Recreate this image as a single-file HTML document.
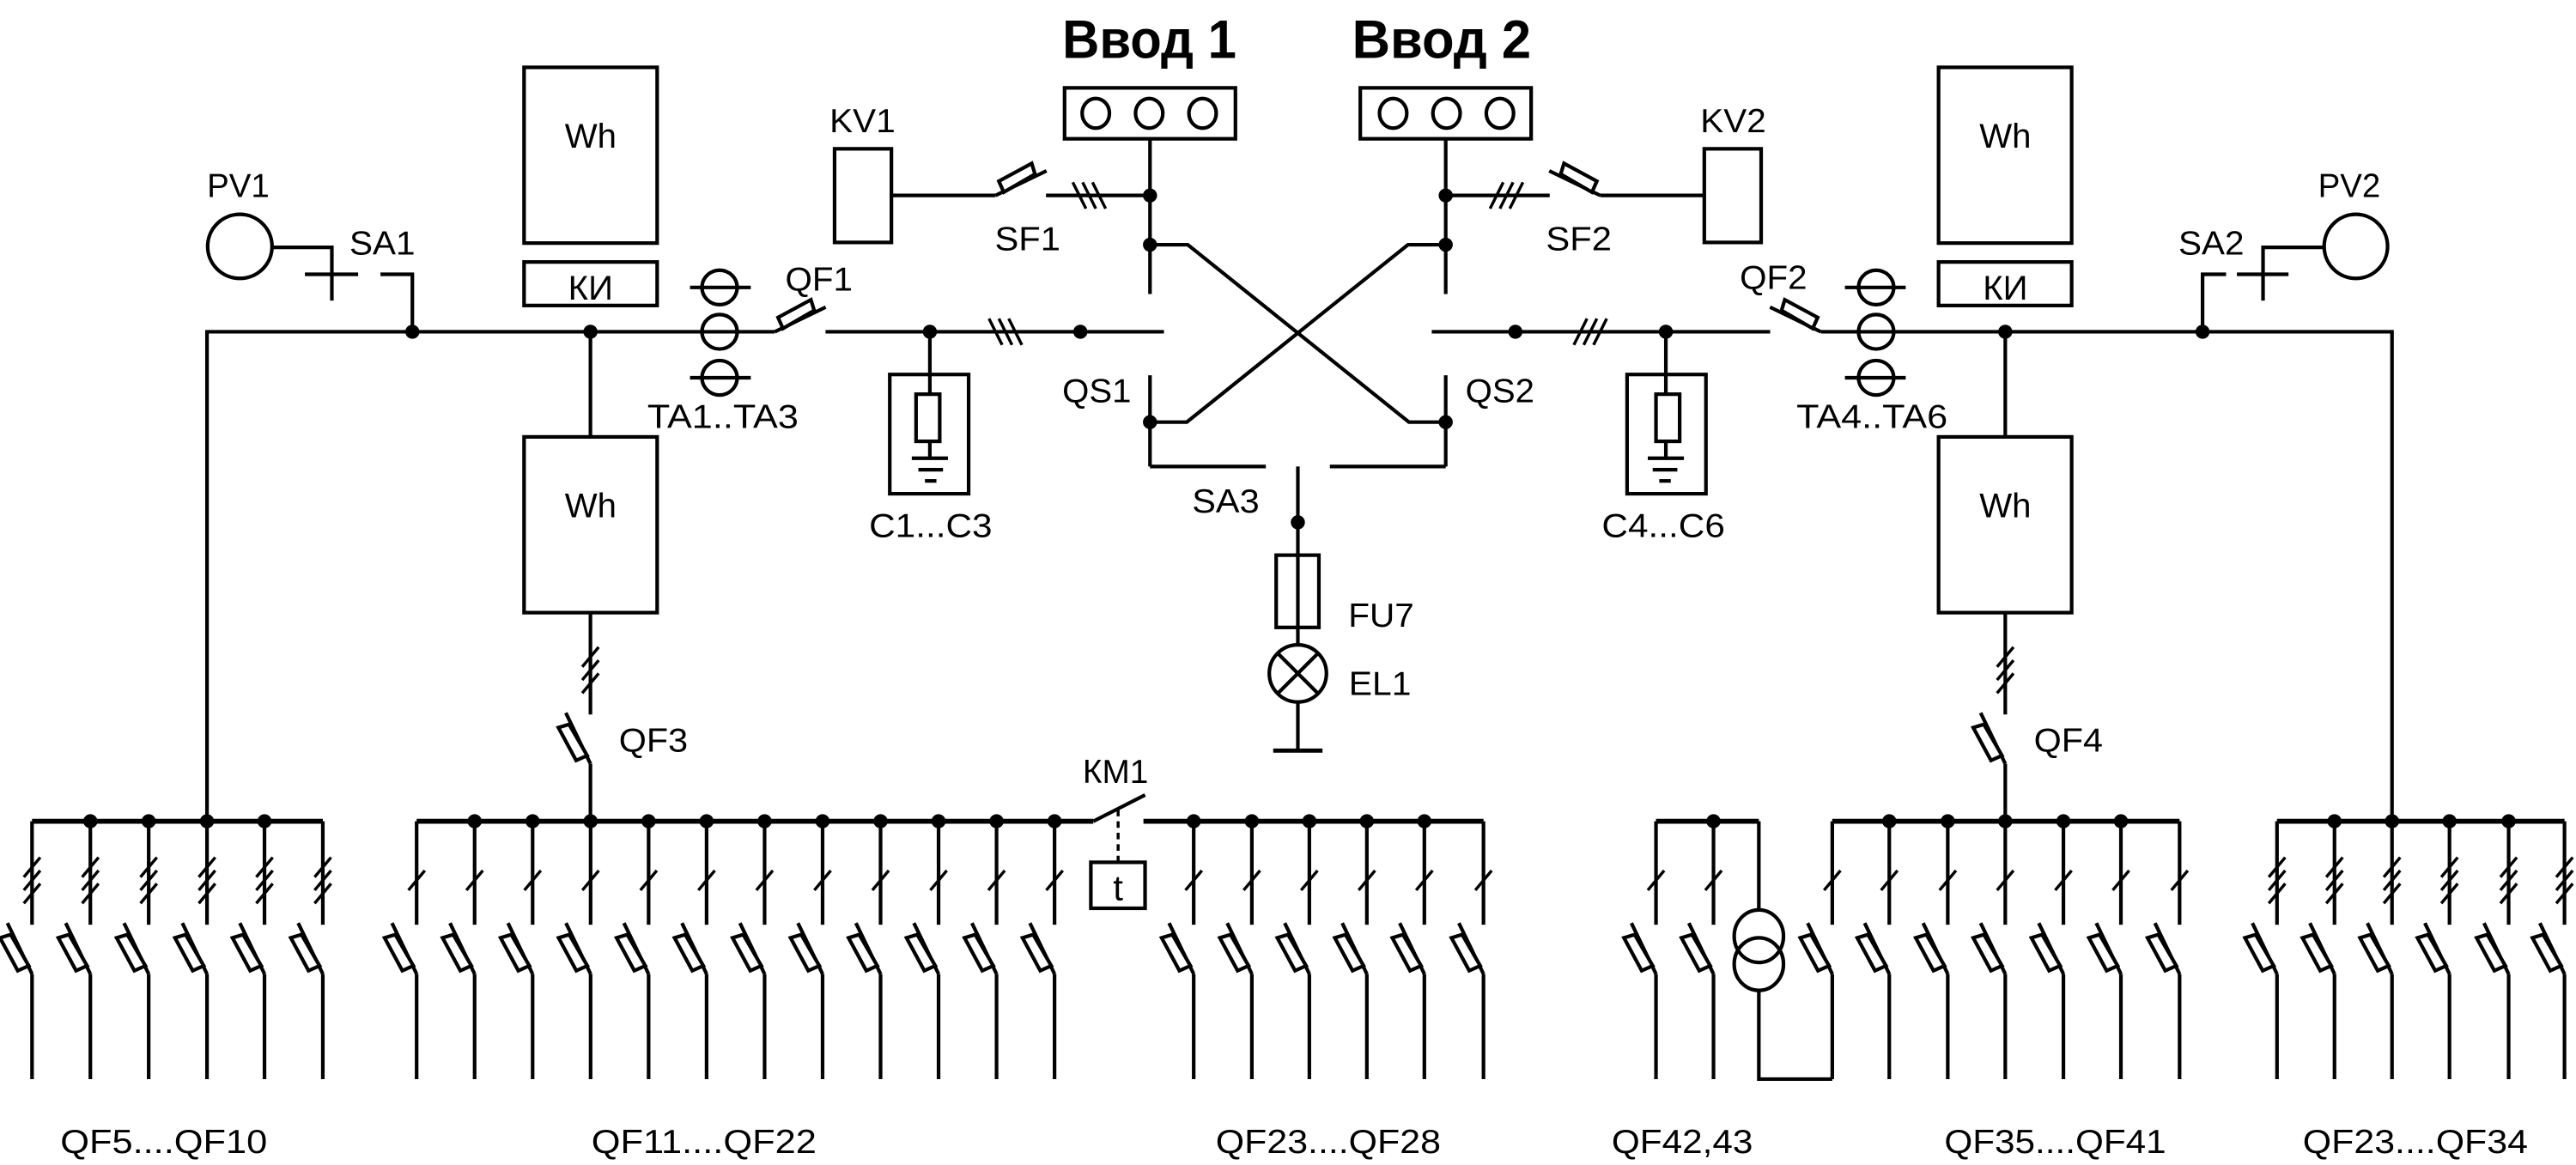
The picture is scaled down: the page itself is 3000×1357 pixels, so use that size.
<!DOCTYPE html>
<html><head><meta charset="utf-8"><style>
html,body{margin:0;padding:0;background:#fff}
svg{display:block}
text{font-family:"Liberation Sans",Arial,sans-serif;fill:#000}
</style></head><body>
<svg xmlns="http://www.w3.org/2000/svg" xmlns:xlink="http://www.w3.org/1999/xlink" width="3000" height="1357" viewBox="0 0 1568 709.3" preserveAspectRatio="none">
<rect width="1568" height="709.3" fill="#fff"/>
<defs>
<g id="bt"><line x1="-15" y1="-31" x2="0" y2="0"/><polygon points="-19.5,-22 -13,-24 -2,-5 -8.7,-2" fill="#fff"/></g>
<circle id="d" r="4.3" fill="#000" stroke="none"/>
<g id="brT"><line x1="0" y1="500" x2="0" y2="563"/><line x1="-5" y1="534" x2="5" y2="522" stroke-width="1.8"/><line x1="-5" y1="542" x2="5" y2="530" stroke-width="1.8"/><line x1="-5" y1="550" x2="5" y2="538" stroke-width="1.8"/><use href="#bt" xlink:href="#bt" transform="translate(0,593)"/><line x1="0" y1="593" x2="0" y2="657"/></g>
<g id="brS"><line x1="0" y1="500" x2="0" y2="563"/><line x1="-5" y1="542" x2="5" y2="530" stroke-width="1.8"/><use href="#bt" xlink:href="#bt" transform="translate(0,593)"/><line x1="0" y1="593" x2="0" y2="657"/></g>
<g id="feed">
<line x1="0" y1="202" x2="0" y2="266"/>
<line x1="0" y1="373" x2="0" y2="435"/>
<line x1="-5" y1="406" x2="5" y2="394" stroke-width="1.8"/>
<line x1="-5" y1="414" x2="5" y2="402" stroke-width="1.8"/>
<line x1="-5" y1="422" x2="5" y2="410" stroke-width="1.8"/>
<use href="#bt" xlink:href="#bt" transform="translate(0,465)"/>
<line x1="0" y1="465" x2="0" y2="500"/>
<use href="#d" xlink:href="#d" x="0" y="202"/>
</g>
</defs>

<g fill="none" stroke="#000" stroke-width="2.2">
<g id="L">
<rect x="319" y="41" width="81" height="107"/>
<rect x="319" y="159.5" width="81" height="26.5"/>
<rect x="319" y="266" width="81" height="107"/>
<ellipse cx="438" cy="175" rx="10.7" ry="10.5"/>
<ellipse cx="438" cy="202" rx="10.7" ry="10.5"/>
<ellipse cx="438" cy="230" rx="10.7" ry="10.5"/>
<line x1="420" y1="175" x2="457" y2="175"/>
<line x1="420" y1="230" x2="457" y2="230"/>
<use href="#bt" xlink:href="#bt" transform="translate(471.6,202) rotate(90)"/>
<line x1="502.5" y1="202" x2="708.5" y2="202"/>
<use href="#d" xlink:href="#d" x="566" y="202"/>
<use href="#d" xlink:href="#d" x="657.6" y="202"/>
<line x1="602" y1="194" x2="610" y2="210" stroke-width="1.8"/>
<line x1="608" y1="194" x2="616" y2="210" stroke-width="1.8"/>
<line x1="614" y1="194" x2="622" y2="210" stroke-width="1.8"/>
<rect x="541.6" y="228" width="48" height="72.6"/>
<line x1="566" y1="202" x2="566" y2="240"/>
<rect x="557.6" y="240" width="14.4" height="28.7"/>
<line x1="566" y1="268.7" x2="566" y2="278.6"/>
<line x1="555" y1="279" x2="577" y2="279"/>
<line x1="559" y1="286" x2="574" y2="286"/>
<line x1="563" y1="292.8" x2="570" y2="292.8"/>
<rect x="508" y="90.6" width="34.6" height="57"/>
<line x1="542.6" y1="119" x2="606" y2="119"/>
<use href="#bt" xlink:href="#bt" transform="translate(606,119) rotate(90)"/>
<line x1="636.7" y1="119" x2="700" y2="119"/>
<line x1="653" y1="111" x2="661" y2="127" stroke-width="1.8"/>
<line x1="659" y1="111" x2="667" y2="127" stroke-width="1.8"/>
<line x1="665" y1="111" x2="673" y2="127" stroke-width="1.8"/>
<rect x="648" y="53.5" width="104" height="31"/>
<ellipse cx="667" cy="69" rx="8.3" ry="9"/>
<ellipse cx="699.5" cy="69" rx="8.3" ry="9"/>
<ellipse cx="732" cy="69" rx="8.3" ry="9"/>
<line x1="700" y1="84.5" x2="700" y2="179"/>
<use href="#d" xlink:href="#d" x="700" y="119"/>
<use href="#d" xlink:href="#d" x="700" y="149"/>
<path d="M700 149 H723 L857.6 257 H880"/>
<line x1="700" y1="228.5" x2="700" y2="284"/>
<use href="#d" xlink:href="#d" x="700" y="257"/>
<path d="M700 284 H770.5"/>
</g>
<use href="#L" xlink:href="#L" transform="translate(1580,0) scale(-1,1)"/>
<use href="#feed" xlink:href="#feed" x="359.4"/>
<use href="#feed" xlink:href="#feed" x="1220.6"/>

<!-- left/right specific top -->
<path d="M126 500 V202 H471.6"/>
<use href="#d" xlink:href="#d" x="251" y="202"/>
<ellipse cx="146" cy="150" rx="19.6" ry="19.5"/>
<path d="M165.6 150.6 H202 V183"/>
<line x1="185.6" y1="167" x2="218" y2="167"/>
<path d="M231.6 167 H251 V202"/>
<path d="M1108.4 202 H1456 V500"/>
<use href="#d" xlink:href="#d" x="1340.7" y="202"/>
<ellipse cx="1434" cy="150" rx="19.3" ry="19.5"/>
<path d="M1414.7 150.6 H1377.5 V183"/>
<line x1="1361.6" y1="167" x2="1393" y2="167"/>
<path d="M1355 167 H1340.7 V202"/>

<!-- middle -->
<line x1="790" y1="284" x2="790" y2="392.6"/>
<use href="#d" xlink:href="#d" x="790" y="318"/>
<rect x="776.8" y="338" width="26" height="44"/>
<circle cx="790" cy="410" r="17.4"/>
<line x1="777.7" y1="397.7" x2="802.3" y2="422.3"/>
<line x1="802.3" y1="397.7" x2="777.7" y2="422.3"/>
<line x1="790" y1="427.4" x2="790" y2="457"/>
<line x1="775" y1="457" x2="805" y2="457" stroke-width="2.6"/>

<!-- bottom group 1 -->
<line x1="19.5" y1="500" x2="196.5" y2="500" stroke-width="3"/>
<use href="#brT" xlink:href="#brT" x="19.5"/>
<use href="#brT" xlink:href="#brT" x="55"/>
<use href="#brT" xlink:href="#brT" x="90.5"/>
<use href="#brT" xlink:href="#brT" x="126"/>
<use href="#brT" xlink:href="#brT" x="161"/>
<use href="#brT" xlink:href="#brT" x="196.5"/>
<use href="#d" xlink:href="#d" x="55" y="500"/>
<use href="#d" xlink:href="#d" x="90.5" y="500"/>
<use href="#d" xlink:href="#d" x="126" y="500"/>
<use href="#d" xlink:href="#d" x="161" y="500"/>

<!-- group 2 -->
<line x1="253.6" y1="500" x2="665.5" y2="500" stroke-width="3"/>
<use href="#brS" xlink:href="#brS" x="253.6"/>
<use href="#brS" xlink:href="#brS" x="288.9"/>
<use href="#brS" xlink:href="#brS" x="324.2"/>
<use href="#brS" xlink:href="#brS" x="359.5"/>
<use href="#brS" xlink:href="#brS" x="394.8"/>
<use href="#brS" xlink:href="#brS" x="430.1"/>
<use href="#brS" xlink:href="#brS" x="465.4"/>
<use href="#brS" xlink:href="#brS" x="500.7"/>
<use href="#brS" xlink:href="#brS" x="536"/>
<use href="#brS" xlink:href="#brS" x="571.3"/>
<use href="#brS" xlink:href="#brS" x="606.6"/>
<use href="#brS" xlink:href="#brS" x="641.9"/>
<use href="#d" xlink:href="#d" x="288.9" y="500"/>
<use href="#d" xlink:href="#d" x="324.2" y="500"/>
<use href="#d" xlink:href="#d" x="359.5" y="500"/>
<use href="#d" xlink:href="#d" x="394.8" y="500"/>
<use href="#d" xlink:href="#d" x="430.1" y="500"/>
<use href="#d" xlink:href="#d" x="465.4" y="500"/>
<use href="#d" xlink:href="#d" x="500.7" y="500"/>
<use href="#d" xlink:href="#d" x="536" y="500"/>
<use href="#d" xlink:href="#d" x="571.3" y="500"/>
<use href="#d" xlink:href="#d" x="606.6" y="500"/>
<use href="#d" xlink:href="#d" x="641.9" y="500"/>
<line x1="665.5" y1="500" x2="697" y2="484"/>
<line x1="680.6" y1="493" x2="680.6" y2="525" stroke-dasharray="4,3" stroke-width="1.8"/>
<rect x="664" y="525" width="33" height="28"/>

<!-- group 3 -->
<line x1="696" y1="500" x2="903" y2="500" stroke-width="3"/>
<use href="#brS" xlink:href="#brS" x="726.6"/>
<use href="#brS" xlink:href="#brS" x="762"/>
<use href="#brS" xlink:href="#brS" x="797"/>
<use href="#brS" xlink:href="#brS" x="832"/>
<use href="#brS" xlink:href="#brS" x="867"/>
<use href="#brS" xlink:href="#brS" x="903"/>
<use href="#d" xlink:href="#d" x="726.6" y="500"/>
<use href="#d" xlink:href="#d" x="762" y="500"/>
<use href="#d" xlink:href="#d" x="797" y="500"/>
<use href="#d" xlink:href="#d" x="832" y="500"/>
<use href="#d" xlink:href="#d" x="867" y="500"/>

<!-- group 4 -->
<line x1="1008" y1="500" x2="1070.6" y2="500" stroke-width="3"/>
<use href="#brS" xlink:href="#brS" x="1008"/>
<use href="#brS" xlink:href="#brS" x="1043"/>
<use href="#d" xlink:href="#d" x="1043" y="500"/>
<line x1="1070.6" y1="500" x2="1070.6" y2="554"/>
<ellipse cx="1070.6" cy="570" rx="15" ry="16"/>
<ellipse cx="1070.6" cy="587" rx="15" ry="16"/>
<path d="M1070.6 603 V657 H1115.3"/>

<!-- group 5 -->
<line x1="1115.3" y1="500" x2="1326.7" y2="500" stroke-width="3"/>
<use href="#brS" xlink:href="#brS" x="1115.3"/>
<use href="#brS" xlink:href="#brS" x="1150"/>
<use href="#brS" xlink:href="#brS" x="1185.6"/>
<use href="#brS" xlink:href="#brS" x="1220.6"/>
<use href="#brS" xlink:href="#brS" x="1256"/>
<use href="#brS" xlink:href="#brS" x="1291"/>
<use href="#brS" xlink:href="#brS" x="1326.7"/>
<use href="#d" xlink:href="#d" x="1150" y="500"/>
<use href="#d" xlink:href="#d" x="1185.6" y="500"/>
<use href="#d" xlink:href="#d" x="1220.6" y="500"/>
<use href="#d" xlink:href="#d" x="1256" y="500"/>
<use href="#d" xlink:href="#d" x="1291" y="500"/>

<!-- group 6 -->
<line x1="1386" y1="500" x2="1561" y2="500" stroke-width="3"/>
<use href="#brT" xlink:href="#brT" x="1386"/>
<use href="#brT" xlink:href="#brT" x="1421"/>
<use href="#brT" xlink:href="#brT" x="1456"/>
<use href="#brT" xlink:href="#brT" x="1491"/>
<use href="#brT" xlink:href="#brT" x="1527"/>
<use href="#brT" xlink:href="#brT" x="1561"/>
<use href="#d" xlink:href="#d" x="1421" y="500"/>
<use href="#d" xlink:href="#d" x="1456" y="500"/>
<use href="#d" xlink:href="#d" x="1491" y="500"/>
<use href="#d" xlink:href="#d" x="1527" y="500"/>
</g>

<g font-size="20.5">
<text x="646.6" y="35.4" font-size="33" font-weight="bold" textLength="106" lengthAdjust="spacingAndGlyphs">Ввод 1</text>
<text x="823" y="35.4" font-size="33" font-weight="bold" textLength="109" lengthAdjust="spacingAndGlyphs">Ввод 2</text>
<text x="126" y="120" textLength="38" lengthAdjust="spacingAndGlyphs">PV1</text>
<text x="212.7" y="155" textLength="40" lengthAdjust="spacingAndGlyphs">SA1</text>
<text x="1411" y="120" textLength="38" lengthAdjust="spacingAndGlyphs">PV2</text>
<text x="1326" y="155" textLength="40" lengthAdjust="spacingAndGlyphs">SA2</text>
<text x="359.5" y="90" text-anchor="middle" font-size="21">Wh</text>
<text x="359.5" y="182.5" text-anchor="middle" font-size="21">КИ</text>
<text x="359.5" y="315" text-anchor="middle" font-size="21">Wh</text>
<text x="1220.6" y="90" text-anchor="middle" font-size="21">Wh</text>
<text x="1220.6" y="182.5" text-anchor="middle" font-size="21">КИ</text>
<text x="1220.6" y="315" text-anchor="middle" font-size="21">Wh</text>
<text x="394" y="260.5" textLength="92" lengthAdjust="spacingAndGlyphs">TA1..TA3</text>
<text x="1093.5" y="260.5" textLength="92" lengthAdjust="spacingAndGlyphs">TA4..TA6</text>
<text x="478" y="177" textLength="41" lengthAdjust="spacingAndGlyphs">QF1</text>
<text x="1059" y="176" textLength="41" lengthAdjust="spacingAndGlyphs">QF2</text>
<text x="505" y="80.6" textLength="40" lengthAdjust="spacingAndGlyphs">KV1</text>
<text x="1035" y="80.6" textLength="40" lengthAdjust="spacingAndGlyphs">KV2</text>
<text x="605.5" y="152.5" textLength="40" lengthAdjust="spacingAndGlyphs">SF1</text>
<text x="941" y="152.5" textLength="40" lengthAdjust="spacingAndGlyphs">SF2</text>
<text x="646.6" y="245" textLength="42" lengthAdjust="spacingAndGlyphs">QS1</text>
<text x="892" y="245" textLength="42" lengthAdjust="spacingAndGlyphs">QS2</text>
<text x="725.6" y="312" textLength="41" lengthAdjust="spacingAndGlyphs">SA3</text>
<text x="529" y="327" textLength="75" lengthAdjust="spacingAndGlyphs">C1...C3</text>
<text x="975" y="327" textLength="75" lengthAdjust="spacingAndGlyphs">C4...C6</text>
<text x="820.7" y="381.6" textLength="40" lengthAdjust="spacingAndGlyphs">FU7</text>
<text x="821" y="423" textLength="38" lengthAdjust="spacingAndGlyphs">EL1</text>
<text x="376.7" y="457.5" textLength="42" lengthAdjust="spacingAndGlyphs">QF3</text>
<text x="1238" y="457.5" textLength="42" lengthAdjust="spacingAndGlyphs">QF4</text>
<text x="659" y="476.7" textLength="40" lengthAdjust="spacingAndGlyphs">КМ1</text>
<text x="680.6" y="548" text-anchor="middle" font-size="22">t</text>
<text x="36.7" y="702" textLength="126" lengthAdjust="spacingAndGlyphs">QF5....QF10</text>
<text x="360" y="702" textLength="137" lengthAdjust="spacingAndGlyphs">QF11....QF22</text>
<text x="740" y="702" textLength="137" lengthAdjust="spacingAndGlyphs">QF23....QF28</text>
<text x="981" y="702" textLength="86" lengthAdjust="spacingAndGlyphs">QF42,43</text>
<text x="1183.5" y="702" textLength="135" lengthAdjust="spacingAndGlyphs">QF35....QF41</text>
<text x="1401.7" y="702" textLength="137" lengthAdjust="spacingAndGlyphs">QF23....QF34</text>
</g>
</svg>
</body></html>
